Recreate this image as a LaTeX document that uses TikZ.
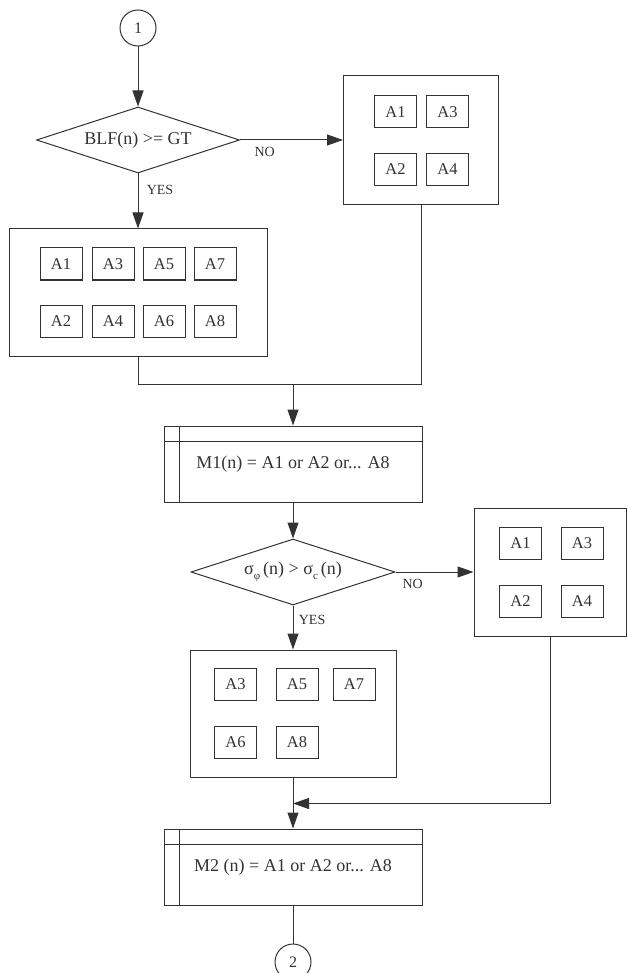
\documentclass[tikz,border=0pt]{standalone}
\usepackage{fontspec}
\setmainfont{Liberation Serif}
\usetikzlibrary{positioning,calc,shapes.geometric,arrows.meta}

\newcommand{\lowsub}[1]{\raisebox{-5pt}{\fontsize{11}{11}\selectfont #1}}

\tikzset{
  conn/.style={circle, draw, minimum size=36pt, inner sep=0pt, font=\fontsize{16}{16}\selectfont},
  decide/.style={diamond, draw, aspect=3, inner sep=0pt, minimum width=203pt, minimum height=66pt},
  group/.style={draw, minimum width=258pt, minimum height=127pt},
  proc/.style={draw, minimum width=258pt, minimum height=76pt},
  abox/.style={draw, minimum width=42pt, minimum height=32pt, inner sep=0pt, font=\fontsize{16.5}{16.5}\selectfont},
  lbl/.style={font=\fontsize{14}{14}\selectfont},
}

\begin{document}
\begin{tikzpicture}[>={Triangle[length=16pt,width=11pt]}, line width=1pt, color=black!80,
    every node/.style={font=\fontsize{18}{18}\selectfont}]
    \useasboundingbox (0,0) rectangle (628pt,-973pt);

    % main chain
    \node (c1)  [conn] at (138pt,-28pt) {1};
    \node (blf) [decide, below=60pt of c1] {BLF(n) >= GT};
    \node (g8)  [group, below=55pt of blf] {};
    \node (g4a) [group, right=103pt of blf, minimum width=155pt, minimum height=129pt] {};
    \node (m1)  [proc] at (293pt,-464pt) {M1(n) = A1 or A2 or... A8};
    \node (sig) [decide, minimum width=204pt, below=36pt of m1] {σ\lowsub{φ}\,(n) > σ\lowsub{c}\,(n)};
    \node (g4b) [group, right=78pt of sig, minimum width=152pt, minimum height=128pt] {};
    \node (g5)  [group, below=44pt of sig, minimum width=206pt] {};
    \node (m2)  [proc, below=51pt of g5] {M2 (n) = A1 or A2 or... A8};
    \node (c2)  [conn, below=38pt of m2] {2};

    % action boxes
    \foreach \a/\dx/\dy in {A1/-77/28.5, A3/-25/28.5, A5/26/28.5, A7/77/28.5,
                            A2/-77/-29, A4/-25/-29, A6/26/-29, A8/77/-29}
      \node (g8-\a) [abox] at ($(g8)+(\dx pt,\dy pt)$) {\a};
    \foreach \a/\dx/\dy in {A1/-25.5/28, A3/26.5/28, A2/-25.5/-29.5, A4/26.5/-29.5}
      \node (g4a-\a) [abox] at ($(g4a)+(\dx pt,\dy pt)$) {\a};
    \foreach \a/\dx/\dy in {A1/-29.5/28.5, A3/32/28.5, A2/-29.5/-29, A4/32/-29}
      \node (g4b-\a) [abox] at ($(g4b)+(\dx pt,\dy pt)$) {\a};
    \foreach \a/\dx/\dy in {A3/-57.5/29.5, A5/4/29.5, A7/61/29.5, A6/-57.5/-29, A8/4/-29}
      \node (g5-\a) [abox] at ($(g5)+(\dx pt,\dy pt)$) {\a};

    % predefined process frames
    \foreach \m in {m1,m2} {
      \draw ([xshift=16pt]\m.north west) -- ([xshift=16pt]\m.south west);
      \draw ([yshift=-16pt]\m.north west) -- ([yshift=-16pt]\m.north east);
    }

    % connectors
    \draw[->] (c1) -- (blf);
    \draw[->] (blf) -- node[lbl, pos=0.3, right=5pt] {YES} (g8);
    \draw[->] (blf.east) -- node[lbl, pos=0.24, below=3pt] {NO} (g4a.west);
    \coordinate (j1) at ($(m1.north)+(0,41pt)$);
    \draw (g8.south) |- (g4a.south |- j1) -- (g4a.south);
    \draw[->] (j1) -- (m1.north);
    \draw[->] (m1) -- (sig);
    \draw[->] (sig) -- node[lbl, pos=0.32, right=2pt] {YES} (g5);
    \draw[->] (sig.east) -- node[lbl, pos=0.22, below=3pt] {NO} (g4b.west);
    \coordinate (j2) at ($(m2.north)+(0,25pt)$);
    \draw[->] (g4b.south) |- (j2);
    \draw[->] (g5) -- (m2);
    \draw (m2) -- (c2);
\end{tikzpicture}
\end{document}
